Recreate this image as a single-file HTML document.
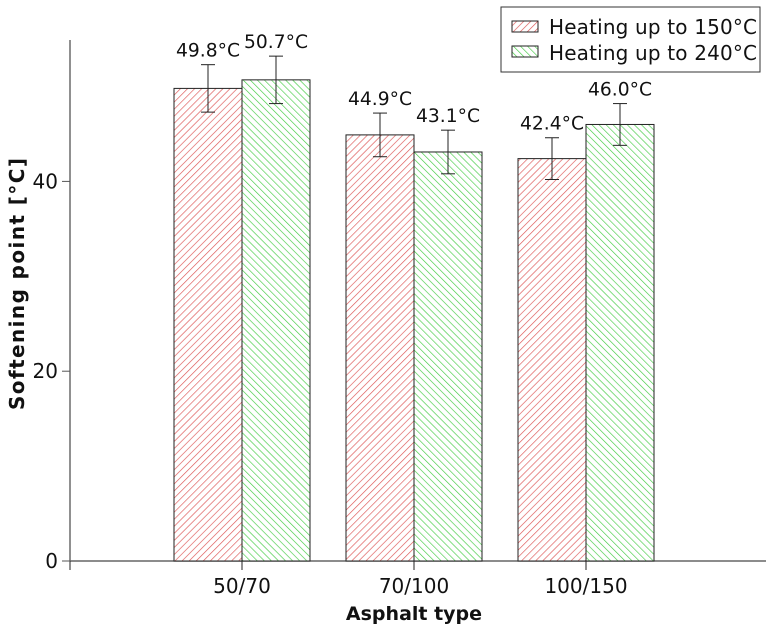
<!DOCTYPE html>
<html><head><meta charset="utf-8"><style>
body{margin:0;background:#fff}
svg{display:block;font-family:"DejaVu Sans","Liberation Sans",sans-serif}
</style></head><body>
<svg id="chart" width="766" height="629">
<defs>
<pattern id="pr" patternUnits="userSpaceOnUse" width="5" height="5" patternTransform="rotate(45)"><rect width="5" height="5" fill="#fff"/><line x1="0" y1="0" x2="0" y2="5" stroke="#d55" stroke-width="1.3"/></pattern>
<pattern id="pg" patternUnits="userSpaceOnUse" width="5" height="5" patternTransform="rotate(-45)"><rect width="5" height="5" fill="#fff"/><line x1="0" y1="0" x2="0" y2="5" stroke="#4c4" stroke-width="1.3"/></pattern>
</defs>
<g id="plot"></g>
<g>
<rect x="501" y="7" width="259" height="65" fill="#fff" stroke="#333" stroke-width="1"/>
<rect x="512" y="21" width="26" height="11" fill="url(#pr)" stroke="#222"/>
<text x="549" y="34" font-size="20" fill="#111" textLength="208">Heating up to 150°C</text>
<rect x="512" y="46" width="26" height="11" fill="url(#pg)" stroke="#222"/>
<text x="549" y="60" font-size="20" fill="#111" textLength="208">Heating up to 240°C</text>
</g>
</svg>
<script>
const categories=["50/70","70/100","100/150"];
const series150=[49.8,44.9,42.4];
const series240=[50.7,43.1,46.0];
const err150=[2.5,2.3,2.2];
const err240=[2.5,2.3,2.2];
const yTicks=[0,20,40];
const NS="http://www.w3.org/2000/svg";
const g=document.getElementById('plot');
const x0=70,y0=561,ppu=9.49,catStart=242,catStep=172,bw=68;
const y=v=>y0-v*ppu;
const cx=i=>catStart+i*catStep;
function el(t,a,txt){const e=document.createElementNS(NS,t);for(const k in a)e.setAttribute(k,a[k]);if(txt!=null)e.textContent=txt;g.appendChild(e);return e;}
let e;
e=el('line',{x1:x0,y1:40,x2:x0,y2:y0,stroke:'#222','stroke-width':1});


e=el('line',{x1:x0,y1:y0,x2:766,y2:y0,stroke:'#666','stroke-width':1.5});


el('line',{x1:x0,y1:y0,x2:x0,y2:570,stroke:'#222'});
yTicks.forEach(t=>{
 el('line',{x1:x0-8,y1:y(t),x2:x0,y2:y(t),stroke:'#555'});
 e=el('text',{x:x0-12,y:y(t)+7,'font-size':20,'text-anchor':'end',fill:'#111'},String(t));
 
 
});
function bar(v,er,xl,fill,name){
 e=el('rect',{x:xl,y:y(v),width:bw,height:v*ppu,fill:fill,stroke:'#222','stroke-width':1});
 
 
 const xc=xl+bw/2;
 el('line',{x1:xc,y1:y(v+er),x2:xc,y2:y(v-er),stroke:'#222'});
 el('line',{x1:xc-7,y1:y(v+er),x2:xc+7,y2:y(v+er),stroke:'#222'});
 el('line',{x1:xc-7,y1:y(v-er),x2:xc+7,y2:y(v-er),stroke:'#222'});
 e=el('text',{x:xc,y:y(v+er)-8,'font-size':19,'text-anchor':'middle',textLength:64,lengthAdjust:'spacingAndGlyphs',fill:'#111'},v.toFixed(1)+'°C');
 
 
}
categories.forEach((c,i)=>{
 bar(series150[i],err150[i],cx(i)-bw,'url(#pr)','bar-150-'+i);
 bar(series240[i],err240[i],cx(i),'url(#pg)','bar-240-'+i);
 el('line',{x1:cx(i),y1:y0,x2:cx(i),y2:570,stroke:'#222'});
 e=el('text',{x:cx(i),y:593,'font-size':20,'text-anchor':'middle',fill:'#111'},c);
 
 
});
e=el('text',{x:414,y:620,'font-size':19,'font-weight':'bold','text-anchor':'middle',fill:'#111'},'Asphalt type');


e=el('text',{x:0,y:0,'font-size':20,'font-weight':'bold','text-anchor':'middle',fill:'#111',textLength:252,transform:'translate(24,284) rotate(-90)'},'Softening point [°C]');


</script>
</body></html>
